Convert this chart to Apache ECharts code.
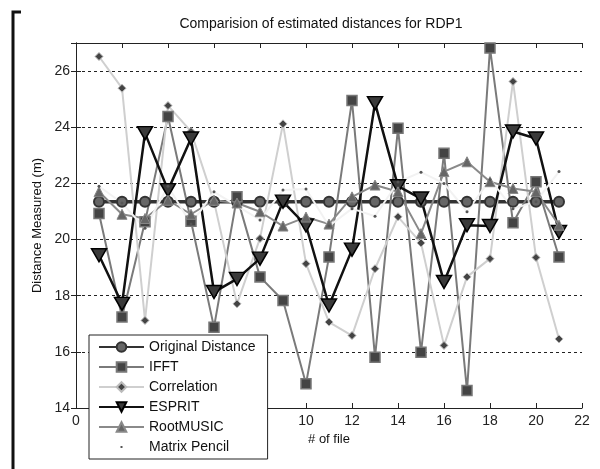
<!DOCTYPE html>
<html>
<head>
<meta charset="utf-8">
<script src="https://cdn.jsdelivr.net/npm/echarts@6/dist/echarts.min.js"></script>
<style>
  html, body { margin: 0; padding: 0; background: #fff; }
  #main { width: 600px; height: 469px; }
</style>
</head>
<body>
<div id="main"></div>
<script>
// # of file
var fileIdx = [1, 2, 3, 4, 5, 6, 7, 8, 9, 10, 11, 12, 13, 14, 15, 16, 17, 18, 19, 20, 21];
// distances (m)
var original = [21.35, 21.35, 21.35, 21.35, 21.35, 21.35, 21.35, 21.35, 21.35, 21.35, 21.35, 21.35, 21.35, 21.35, 21.35, 21.35, 21.35, 21.35, 21.35, 21.35, 21.35];
var ifft = [20.93, 17.24, 20.63, 24.38, 20.65, 16.88, 21.52, 18.67, 17.83, 14.86, 19.38, 24.95, 15.81, 23.96, 15.99, 23.07, 14.62, 26.82, 20.6, 22.06, 19.38];
var correlation = [26.52, 25.39, 17.12, 24.77, 23.85, 21.35, 17.71, 20.04, 24.12, 19.14, 17.06, 16.58, 18.96, 20.81, 19.88, 16.23, 18.67, 19.32, 25.63, 19.36, 16.46];
var esprit = [19.44, 17.71, 23.79, 21.76, 23.6, 18.13, 18.6, 19.32, 21.35, 20.5, 17.65, 19.64, 24.86, 21.9, 21.46, 18.49, 20.51, 20.48, 23.85, 23.6, 20.27];
var rootMusic = [21.7, 20.9, 20.75, 21.4, 20.9, 21.4, 21.3, 20.99, 20.48, 20.8, 20.55, 21.52, 21.94, 21.7, 20.21, 22.42, 22.77, 22.06, 21.82, 21.7, 20.51];
var matrixPencil = [21.9, 21.3, 20.4, 21.9, 20.55, 21.7, 21.2, 20.7, 21.76, 21.8, 20.48, 21.1, 20.83, 22.05, 22.4, 22.0, 20.99, 22.14, 21.1, 21.35, 22.42];
var xTicks = [0, 2, 4, 6, 8, 10, 12, 14, 16, 18, 20, 22];
var yTicks = [14, 16, 18, 20, 22, 24, 26];

var font = "Liberation Sans, Arial, sans-serif";
var chart = echarts.init(document.getElementById('main'), null, { renderer: 'canvas' });

function pairs(arr) {
    return fileIdx.map(function (x, i) { return [x, arr[i]]; });
}

var downTri = 'path://M0,0 L10,0 L5,9 Z';
// tiny dot in the middle of the legend slot (corner points keep the box size)
var tinyDot = 'path://M0,0 L0,0 M45,12 L45,12 M21.5,5 L23.5,5 L23.5,7 L21.5,7 Z';

var option = {
    backgroundColor: '#fff',
    animation: false,
    title: {
        text: 'Comparision of estimated distances for RDP1',
        left: 316, top: 12, textAlign: 'center',
        textStyle: { fontFamily: font, fontSize: 14, fontWeight: 'normal', color: '#111' }
    },
    grid: { left: 76, right: 18, top: 43, bottom: 61 },
    legend: {
        orient: 'vertical',
        left: 89, top: 335, height: 200,
        padding: [5, 12, 5, 9],
        itemWidth: 45, itemHeight: 12, itemGap: 6,
        backgroundColor: '#fff',
        borderColor: '#222', borderWidth: 1,
        textStyle: { fontFamily: font, fontSize: 14, color: '#111' },
        data: ['Original Distance', 'IFFT', 'Correlation', 'ESPRIT', 'RootMUSIC',
            { name: 'Matrix Pencil', icon: tinyDot }]
    },
    xAxis: [{
        type: 'value', min: xTicks[0], max: xTicks[xTicks.length - 1], interval: 2,
        name: '# of file', nameLocation: 'middle', nameGap: 25,
        nameTextStyle: { fontFamily: font, fontSize: 13, color: '#111' },
        axisLine: { lineStyle: { color: '#222', width: 1 } },
        axisTick: { inside: true, length: 5, lineStyle: { color: '#222' } },
        axisLabel: { fontFamily: font, fontSize: 14, color: '#222', margin: 6 },
        splitLine: { show: false }
    }, {
        type: 'value', position: 'top', min: 0, max: 22, interval: 2,
        axisLine: { lineStyle: { color: '#222', width: 1 } },
        axisTick: { inside: true, length: 5, lineStyle: { color: '#222' } },
        axisLabel: { show: false },
        splitLine: { show: false }
    }],
    yAxis: [{
        type: 'value', min: yTicks[0], max: 27, interval: 2,
        name: 'Distance Measured (m)', nameLocation: 'middle', nameGap: 32,
        nameTextStyle: { fontFamily: font, fontSize: 13, color: '#111' },
        axisLine: { show: true, lineStyle: { color: '#222', width: 1 } },
        axisTick: { inside: true, length: 5, lineStyle: { color: '#222' } },
        axisLabel: { fontFamily: font, fontSize: 14, color: '#222', margin: 6, showMaxLabel: false },
        splitLine: { show: true, lineStyle: { color: '#222', type: [3, 3], width: 1 } }
    }, {
        type: 'value', position: 'right', min: 14, max: 27, interval: 2,
        axisLine: { show: true, lineStyle: { color: '#222', width: 1 } },
        axisTick: { inside: true, length: 5, lineStyle: { color: '#222' } },
        axisLabel: { show: false },
        splitLine: { show: false }
    }],
    series: [{
        name: 'Original Distance', type: 'line', data: pairs(original),
        symbol: 'circle', symbolSize: 10,
        lineStyle: { color: '#333', width: 3.5 },
        itemStyle: { color: '#666', borderColor: '#333', borderWidth: 2 }
    }, {
        name: 'IFFT', type: 'line', data: pairs(ifft),
        symbol: 'rect', symbolSize: 10,
        lineStyle: { color: '#7a7a7a', width: 2 },
        itemStyle: { color: '#444', borderColor: '#777', borderWidth: 1.5 }
    }, {
        name: 'Correlation', type: 'line', data: pairs(correlation),
        symbol: 'diamond', symbolSize: 8,
        lineStyle: { color: '#cfcfcf', width: 2 },
        itemStyle: { color: '#444', borderColor: '#bbb', borderWidth: 1 }
    }, {
        name: 'ESPRIT', type: 'line', data: pairs(esprit),
        symbol: downTri, symbolSize: [15, 13],
        lineStyle: { color: '#111', width: 2.5 },
        itemStyle: { color: '#3a3a3a', borderColor: '#000', borderWidth: 1.5 }
    }, {
        name: 'RootMUSIC', type: 'line', data: pairs(rootMusic),
        symbol: 'triangle', symbolSize: 10,
        lineStyle: { color: '#8a8a8a', width: 2 },
        itemStyle: { color: '#666', borderColor: '#888', borderWidth: 1 }
    }, {
        name: 'Matrix Pencil', type: 'line', data: pairs(matrixPencil),
        symbol: 'circle', symbolSize: 3,
        lineStyle: { color: '#f2f2f2', width: 2 },
        itemStyle: { color: '#555', borderWidth: 0 }
    }],
    graphic: [{
        type: 'polyline',
        shape: { points: [[21, 12], [13, 12], [13, 469]] },
        style: { stroke: '#111', lineWidth: 3, fill: null }
    }]
};

chart.setOption(option);
</script>
</body>
</html>
